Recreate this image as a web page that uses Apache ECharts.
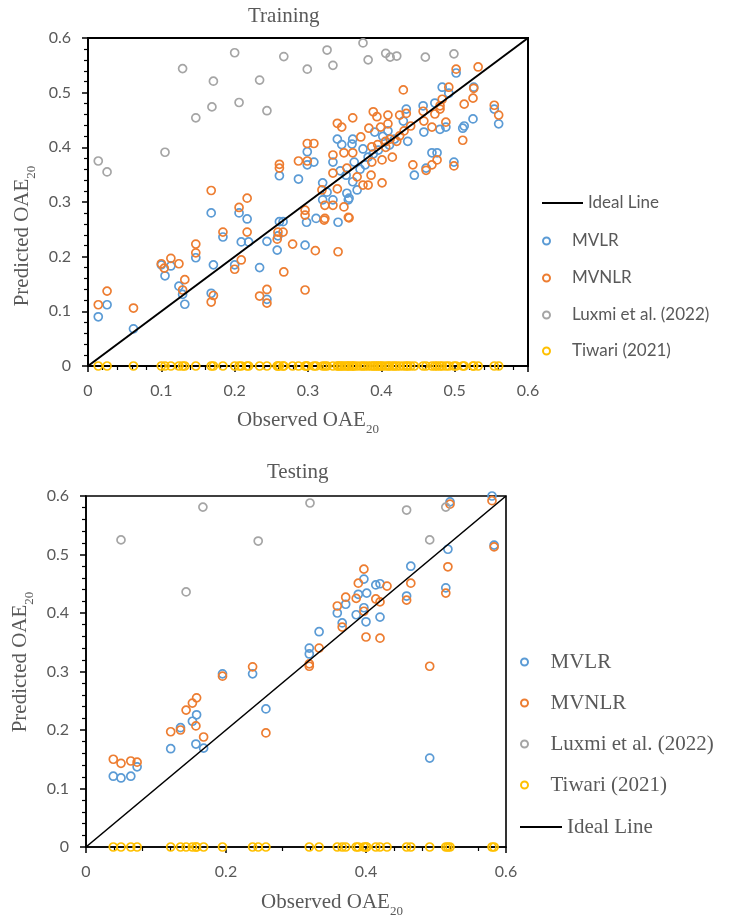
<!DOCTYPE html>
<html>
<head>
<meta charset="utf-8">
<script src="https://cdn.jsdelivr.net/npm/echarts@6/dist/echarts.min.js"></script>
<style>
html,body{margin:0;padding:0;background:#fff;}
#chart{width:731px;height:919px;}
</style>
</head>
<body>
<div id="chart"></div>
<script>
// ---------------- DATA ----------------
const axisTicksTrain = { min: 0, max: 0.6, interval: 0.1 };
const axisTicksTestX = { min: 0, max: 0.6, interval: 0.2 };
const axisTicksTestY = { min: 0, max: 0.6, interval: 0.1 };
const idealLine = [[0, 0], [0.6, 0.6]];

const mvlrTrain = [
[0.014,0.090],[0.026,0.112],[0.062,0.068],[0.100,0.185],[0.105,0.165],[0.113,0.183],[0.124,0.146],[0.129,0.131],[0.132,0.113],[0.147,0.198],
[0.168,0.280],[0.171,0.185],[0.168,0.133],[0.184,0.236],[0.200,0.185],[0.206,0.280],[0.209,0.227],[0.217,0.269],[0.219,0.227],[0.234,0.180],
[0.244,0.122],[0.244,0.228],[0.258,0.212],[0.259,0.238],[0.261,0.264],[0.266,0.264],[0.261,0.348],[0.287,0.342],[0.296,0.221],[0.298,0.263],
[0.311,0.270],[0.341,0.263],[0.320,0.304],[0.355,0.304],[0.299,0.392],[0.308,0.373],[0.299,0.368],[0.320,0.335],[0.326,0.318],[0.334,0.304],
[0.334,0.373],[0.340,0.415],[0.344,0.357],[0.346,0.405],[0.361,0.415],[0.360,0.406],[0.353,0.316],[0.356,0.307],[0.352,0.349],[0.363,0.373],
[0.375,0.397],[0.382,0.382],[0.378,0.368],[0.391,0.428],[0.396,0.395],[0.405,0.410],[0.361,0.337],[0.367,0.322],[0.434,0.470],[0.430,0.448],
[0.457,0.476],[0.473,0.481],[0.483,0.510],[0.492,0.499],[0.502,0.536],[0.526,0.510],[0.525,0.452],[0.554,0.470],[0.560,0.443],[0.513,0.439],
[0.511,0.435],[0.488,0.437],[0.480,0.433],[0.458,0.428],[0.436,0.411],[0.469,0.390],[0.476,0.390],[0.445,0.349],[0.461,0.362],[0.499,0.373],
[0.411,0.404],[0.409,0.430],[0.418,0.415],[0.389,0.388],[0.402,0.420],[0.371,0.360]
];
const mvnlrTrain = [
[0.014,0.112],[0.026,0.137],[0.062,0.106],[0.100,0.187],[0.104,0.179],[0.113,0.197],[0.124,0.187],[0.129,0.139],[0.132,0.158],[0.147,0.223],
[0.147,0.207],[0.168,0.117],[0.171,0.129],[0.168,0.321],[0.184,0.245],[0.200,0.177],[0.206,0.290],[0.209,0.194],[0.217,0.245],[0.217,0.307],
[0.234,0.128],[0.244,0.140],[0.244,0.115],[0.258,0.232],[0.259,0.245],[0.266,0.245],[0.267,0.172],[0.279,0.223],[0.261,0.369],[0.261,0.362],
[0.287,0.375],[0.296,0.276],[0.296,0.285],[0.296,0.139],[0.310,0.211],[0.322,0.267],[0.323,0.294],[0.334,0.294],[0.341,0.209],[0.349,0.291],
[0.355,0.272],[0.299,0.407],[0.308,0.407],[0.299,0.375],[0.319,0.322],[0.323,0.270],[0.334,0.386],[0.334,0.353],[0.340,0.444],[0.346,0.437],
[0.349,0.390],[0.353,0.362],[0.340,0.324],[0.356,0.271],[0.361,0.454],[0.361,0.390],[0.367,0.346],[0.372,0.419],[0.375,0.331],[0.382,0.331],
[0.386,0.349],[0.387,0.373],[0.383,0.435],[0.389,0.465],[0.394,0.456],[0.399,0.437],[0.401,0.335],[0.401,0.377],[0.387,0.401],[0.406,0.411],
[0.502,0.543],[0.532,0.547],[0.430,0.505],[0.492,0.510],[0.526,0.508],[0.525,0.490],[0.483,0.488],[0.513,0.479],[0.554,0.477],[0.560,0.459],
[0.480,0.476],[0.480,0.470],[0.457,0.466],[0.473,0.461],[0.425,0.459],[0.434,0.462],[0.458,0.448],[0.488,0.446],[0.469,0.437],[0.409,0.459],
[0.409,0.443],[0.440,0.439],[0.431,0.430],[0.425,0.421],[0.421,0.411],[0.511,0.413],[0.415,0.382],[0.443,0.368],[0.461,0.358],[0.469,0.368],
[0.476,0.377],[0.499,0.366],[0.406,0.400],[0.412,0.415],[0.395,0.405]
];
const luxmiTrain = [
[0.014,0.375],[0.026,0.355],[0.105,0.391],[0.129,0.544],[0.147,0.454],[0.169,0.474],[0.171,0.521],[0.200,0.573],[0.206,0.482],[0.234,0.523],
[0.244,0.467],[0.267,0.566],[0.299,0.543],[0.326,0.578],[0.334,0.550],[0.375,0.591],[0.382,0.560],[0.406,0.572],[0.412,0.565],[0.421,0.567],
[0.460,0.565],[0.499,0.571]
];
const tiwariTrain = [
[0.014,0],[0.026,0],[0.062,0],[0.100,0],[0.105,0],[0.113,0],[0.124,0],[0.129,0],[0.132,0],[0.147,0],[0.168,0],[0.171,0],[0.184,0],[0.200,0],
[0.206,0],[0.209,0],[0.217,0],[0.219,0],[0.234,0],[0.244,0],[0.258,0],[0.259,0],[0.261,0],[0.266,0],[0.267,0],[0.279,0],[0.287,0],[0.296,0],
[0.298,0],[0.299,0],[0.308,0],[0.311,0],[0.320,0],[0.323,0],[0.326,0],[0.334,0],[0.340,0],[0.341,0],[0.344,0],[0.346,0],[0.349,0],[0.352,0],
[0.355,0],[0.356,0],[0.360,0],[0.361,0],[0.363,0],[0.367,0],[0.372,0],[0.375,0],[0.378,0],[0.382,0],[0.386,0],[0.389,0],[0.391,0],[0.394,0],
[0.396,0],[0.399,0],[0.401,0],[0.405,0],[0.409,0],[0.411,0],[0.415,0],[0.418,0],[0.421,0],[0.425,0],[0.430,0],[0.434,0],[0.436,0],[0.440,0],
[0.445,0],[0.457,0],[0.461,0],[0.469,0],[0.473,0],[0.476,0],[0.480,0],[0.483,0],[0.488,0],[0.492,0],[0.499,0],[0.502,0],[0.511,0],[0.513,0],
[0.525,0],[0.526,0],[0.532,0],[0.554,0],[0.560,0]
];

const mvlrTest = [
[0.039,0.121],[0.050,0.118],[0.064,0.121],[0.073,0.137],[0.121,0.168],[0.135,0.204],[0.152,0.215],[0.158,0.226],[0.157,0.176],[0.168,0.169],
[0.195,0.296],[0.238,0.296],[0.257,0.236],[0.319,0.330],[0.319,0.340],[0.333,0.368],[0.359,0.400],[0.366,0.383],[0.371,0.415],[0.386,0.397],
[0.389,0.432],[0.397,0.458],[0.397,0.409],[0.400,0.385],[0.401,0.434],[0.414,0.448],[0.420,0.450],[0.420,0.393],[0.458,0.429],[0.464,0.480],
[0.491,0.152],[0.514,0.443],[0.517,0.509],[0.520,0.590],[0.580,0.600],[0.583,0.516]
];
const mvnlrTest = [
[0.039,0.150],[0.050,0.143],[0.064,0.147],[0.073,0.145],[0.121,0.197],[0.135,0.200],[0.143,0.234],[0.152,0.246],[0.158,0.255],[0.157,0.207],
[0.168,0.188],[0.195,0.292],[0.238,0.308],[0.257,0.195],[0.319,0.309],[0.319,0.313],[0.333,0.340],[0.359,0.412],[0.366,0.376],[0.371,0.427],
[0.386,0.425],[0.389,0.451],[0.397,0.475],[0.397,0.403],[0.400,0.359],[0.414,0.424],[0.420,0.419],[0.420,0.357],[0.430,0.446],[0.458,0.422],
[0.464,0.451],[0.491,0.309],[0.514,0.434],[0.517,0.479],[0.520,0.586],[0.580,0.592],[0.583,0.513]
];
const luxmiTest = [
[0.050,0.525],[0.143,0.436],[0.167,0.581],[0.246,0.523],[0.320,0.588],[0.458,0.576],[0.491,0.525],[0.514,0.581]
];
const tiwariTest = [
[0.039,0],[0.050,0],[0.064,0],[0.073,0],[0.121,0],[0.135,0],[0.143,0],[0.152,0],[0.157,0],[0.158,0],[0.168,0],[0.195,0],[0.238,0],[0.246,0],
[0.257,0],[0.319,0],[0.333,0],[0.359,0],[0.366,0],[0.371,0],[0.386,0],[0.389,0],[0.397,0],[0.400,0],[0.401,0],[0.414,0],[0.420,0],[0.430,0],
[0.458,0],[0.464,0],[0.491,0],[0.514,0],[0.517,0],[0.520,0],[0.580,0],[0.583,0]
];

const titles = ['Training', 'Testing'];
const axisNameX = 'Observed OAE{s|20}';
const axisNameY = 'Predicted OAE{s|20}';

// ---------------- STYLE ----------------
const colors = { 'MVLR': '#5B9BD5', 'MVNLR': '#ED7D31', 'Luxmi et al. (2022)': '#A5A5A5', 'Tiwari (2021)': '#FFC000' };
const grey = '#595959';
const serif = '"Liberation Serif", "DejaVu Serif", serif';
const sans = 'Lato, "Open Sans", sans-serif';

function fmt(v) { return v === 0 ? '0' : String(Math.round(v * 10) / 10); }

function makeAxis(grid, t, lw, name, nameGap, namePad) {
  return {
    type: 'value', gridIndex: grid, min: t.min, max: t.max, interval: t.interval,
    name: name, nameLocation: 'middle', nameGap: nameGap,
    nameTextStyle: {
      color: grey, fontFamily: serif, fontSize: 21, padding: namePad,
      rich: { s: { color: grey, fontFamily: serif, fontSize: 13, verticalAlign: 'bottom', lineHeight: 13, padding: [0, 0, -5, 0] } }
    },
    axisLine: { show: true, onZero: false, lineStyle: { color: '#000', width: lw } },
    axisTick: { show: true, inside: false, length: 6, lineStyle: { color: '#000', width: 1.5 } },
    minorTick: { show: true, splitNumber: 5, length: 4, lineStyle: { color: '#000', width: 1.2 } },
    splitLine: { show: false },
    minorSplitLine: { show: false },
    axisLabel: { margin: 17, color: grey, fontFamily: sans, fontSize: 16, formatter: fmt }
  };
}

function scatter(name, data, xi) {
  return {
    name, type: 'scatter', xAxisIndex: xi, yAxisIndex: xi, data,
    symbol: 'circle', symbolSize: 8,
    itemStyle: { color: 'rgba(255,255,255,0)', borderColor: colors[name], borderWidth: 1.7, opacity: 1 },
    emphasis: { disabled: true }
  };
}

function ideal(xi, lw) {
  return {
    name: 'Ideal Line', type: 'line', xAxisIndex: xi, yAxisIndex: xi, data: idealLine,
    symbol: 'none', lineStyle: { color: '#000', width: lw }, itemStyle: { color: '#000' },
    emphasis: { disabled: true }
  };
}

function legendItem(name, left, top, w, h, font, size, lh, icon) {
  const item = { name };
  if (icon) { item.icon = icon; item.itemStyle = { color: '#000', borderWidth: 0 }; }
  return {
    data: [item], left, top, padding: 0, itemWidth: w, itemHeight: h,
    selectedMode: false,
    textStyle: { color: grey, fontFamily: font, fontSize: size, lineHeight: lh }
  };
}

const chart = echarts.init(document.getElementById('chart'), null, { renderer: 'canvas' });

chart.setOption({
  animation: false,
  backgroundColor: '#fff',
  title: [
    { text: titles[0], left: 248, top: 6, padding: 0, textStyle: { color: grey, fontFamily: serif, fontSize: 21, fontWeight: 'normal' } },
    { text: titles[1], left: 267, top: 462, padding: 0, textStyle: { color: grey, fontFamily: serif, fontSize: 21, fontWeight: 'normal' } }
  ],
  grid: [
    { left: 88, top: 38, width: 440, height: 328, show: true, borderColor: '#000', borderWidth: 2, backgroundColor: 'rgba(0,0,0,0)' },
    { left: 86, top: 496, width: 420, height: 351, show: true, borderColor: '#000', borderWidth: 1.6, backgroundColor: 'rgba(0,0,0,0)' }
  ],
  xAxis: [
    makeAxis(0, axisTicksTrain, 2, axisNameX, 44, [0, 0, 0, 0]),
    makeAxis(1, axisTicksTestX, 1.6, axisNameX, 45, [0, 0, 0, 72])
  ],
  yAxis: [
    makeAxis(0, axisTicksTrain, 2, axisNameY, 41, [0, 68, 0, 0]),
    makeAxis(1, axisTicksTestY, 1.6, axisNameY, 54, [0, 0, 0, 19])
  ],
  legend: [
    legendItem('Ideal Line', 542, 193, 41, 2, sans, 17, 20, 'rect'),
    legendItem('MVLR', 542, 231, 41, 7, sans, 17, 20),
    legendItem('MVNLR', 542, 268, 41, 7, sans, 17, 20),
    legendItem('Luxmi et al. (2022)', 542, 305, 41, 7, sans, 17, 20),
    legendItem('Tiwari (2021)', 542, 341, 41, 7, sans, 17, 20),
    legendItem('MVLR', 520, 650, 42, 7, serif, 21, 24),
    legendItem('MVNLR', 520, 691, 42, 7, serif, 21, 24),
    legendItem('Luxmi et al. (2022)', 520, 732, 42, 7, serif, 21, 24),
    legendItem('Tiwari (2021)', 520, 773, 42, 7, serif, 21, 24),
    legendItem('Ideal Line', 520, 815, 42, 2, serif, 21, 24, 'rect')
  ],
  series: [
    scatter('MVLR', mvlrTrain, 0),
    scatter('MVNLR', mvnlrTrain, 0),
    scatter('Luxmi et al. (2022)', luxmiTrain, 0),
    scatter('Tiwari (2021)', tiwariTrain, 0),
    ideal(0, 2),
    scatter('MVLR', mvlrTest, 1),
    scatter('MVNLR', mvnlrTest, 1),
    scatter('Luxmi et al. (2022)', luxmiTest, 1),
    scatter('Tiwari (2021)', tiwariTest, 1),
    ideal(1, 1.6)
  ]
});
</script>
</body>
</html>
